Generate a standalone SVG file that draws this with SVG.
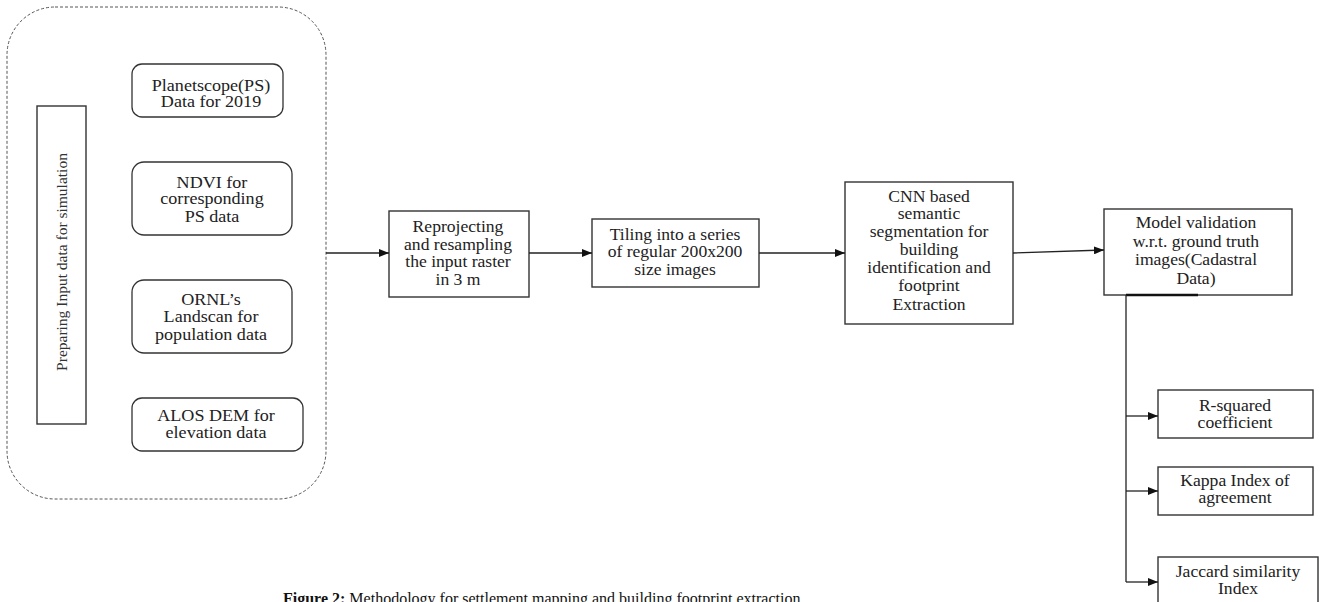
<svg xmlns="http://www.w3.org/2000/svg" width="1323" height="602" viewBox="0 0 1323 602">
<style>
.box{fill:#fff;stroke:#333;stroke-width:1.4}
.rbox{fill:#fff;stroke:#333;stroke-width:1.3}
.t{font-family:"Liberation Serif","Times New Roman",serif;font-size:16px;fill:#222;text-anchor:middle}
.ln{fill:none;stroke:#222;stroke-width:1.3}
.cap{font-family:"Liberation Serif","Times New Roman",serif;font-size:16px;fill:#111}
</style>
<defs>
<marker id="ah" markerWidth="10" markerHeight="8" refX="10" refY="4" orient="auto" markerUnits="userSpaceOnUse">
<path d="M0,0 L10,4 L0,8 Z" fill="#111"/>
</marker>
</defs>
<rect width="1323" height="602" fill="#fff"/>

<g id="container">
<rect x="7" y="7" width="319" height="492" rx="48" ry="48" fill="none" stroke="#555" stroke-width="1" stroke-dasharray="3,2"/>
</g>

<g id="label">
<rect class="box" x="37" y="106" width="49" height="318"/>
<text class="t" transform="translate(67,262) rotate(-90)" x="0" y="0" style="font-size:15.5px;fill:#333">Preparing Input data for simulation</text>
</g>

<g id="ps">
<rect class="rbox" x="132" y="64" width="151" height="53" rx="10"/>
<g transform="translate(211,0) scale(1.13,1)"><text class="t" x="0" y="91">Planetscope(PS)</text><text class="t" x="0" y="107">Data for 2019</text></g>
</g>
<g id="ndvi">
<rect class="rbox" x="132" y="162" width="160" height="73" rx="12"/>
<g transform="translate(212,0) scale(1.13,1)"><text class="t" x="0" y="188">NDVI  for</text><text class="t" x="0" y="204.5">corresponding</text><text class="t" x="0" y="222">PS data</text></g>
</g>
<g id="ornl">
<rect class="rbox" x="132" y="280" width="160" height="73" rx="12"/>
<g transform="translate(211,0) scale(1.13,1)"><text class="t" x="0" y="305">ORNL’s</text><text class="t" x="0" y="322.5">Landscan for</text><text class="t" x="0" y="340.5">population  data</text></g>
</g>
<g id="alos">
<rect class="rbox" x="132" y="398" width="171" height="53" rx="10"/>
<g transform="translate(216,0) scale(1.13,1)"><text class="t" x="0" y="421">ALOS DEM  for</text><text class="t" x="0" y="438">elevation  data</text></g>
</g>

<g id="reproject">
<rect class="box" x="389" y="211" width="140" height="86"/>
<g transform="translate(458,0) scale(1.1,1)"><text class="t" x="0" y="232">Reprojecting</text><text class="t" x="0" y="250">and resampling</text><text class="t" x="0" y="267">the input  raster</text><text class="t" x="0" y="285">in 3  m</text></g>
</g>
<g id="tiling">
<rect class="box" x="592" y="219" width="167" height="68"/>
<g transform="translate(675,0) scale(1.1,1)"><text class="t" x="0" y="240">Tiling  into  a series</text><text class="t" x="0" y="257">of regular  200x200</text><text class="t" x="0" y="275">size images</text></g>
</g>
<g id="cnn">
<rect class="box" x="845" y="182" width="168" height="142"/>
<g transform="translate(929,0) scale(1.1,1)"><text class="t" x="0" y="202">CNN based</text><text class="t" x="0" y="219">semantic</text><text class="t" x="0" y="237">segmentation for</text><text class="t" x="0" y="255">building</text><text class="t" x="0" y="273">identification  and</text><text class="t" x="0" y="291">footprint</text><text class="t" x="0" y="310">Extraction</text></g>
</g>
<g id="validation">
<rect class="box" x="1104" y="209" width="188" height="86"/>
<g transform="translate(1196,0) scale(1.1,1)"><text class="t" x="0" y="228">Model  validation</text><text class="t" x="0" y="247">w.r.t. ground truth</text><text class="t" x="0" y="265">images(Cadastral</text><text class="t" x="0" y="284">Data)</text></g>
</g>
<g id="rsq">
<rect class="box" x="1158" y="390" width="155" height="48"/>
<g transform="translate(1235,0) scale(1.1,1)"><text class="t" x="0" y="411">R-squared</text><text class="t" x="0" y="428">coefficient</text></g>
</g>
<g id="kappa">
<rect class="box" x="1158" y="467" width="155" height="48"/>
<g transform="translate(1235,0) scale(1.1,1)"><text class="t" x="0" y="486">Kappa  Index of</text><text class="t" x="0" y="503">agreement</text></g>
</g>
<g id="jaccard">
<rect class="box" x="1158" y="557" width="160" height="60"/>
<g transform="translate(1238,0) scale(1.1,1)"><text class="t" x="0" y="577">Jaccard similarity</text><text class="t" x="0" y="594">Index</text></g>
</g>

<g id="connectors">
<line class="ln" x1="326" y1="253" x2="389" y2="253" marker-end="url(#ah)"/>
<line class="ln" x1="529" y1="253" x2="592" y2="253" marker-end="url(#ah)"/>
<line class="ln" x1="759" y1="253" x2="845" y2="253" marker-end="url(#ah)"/>
<line class="ln" x1="1013" y1="253" x2="1104" y2="250" marker-end="url(#ah)"/>
<line x1="1126" y1="295" x2="1198" y2="295" stroke="#111" stroke-width="2.5"/>
<line class="ln" x1="1126" y1="295" x2="1126" y2="582"/>
<line class="ln" x1="1126" y1="416" x2="1158" y2="416" marker-end="url(#ah)"/>
<line class="ln" x1="1126" y1="491" x2="1158" y2="491" marker-end="url(#ah)"/>
<line class="ln" x1="1126" y1="582" x2="1158" y2="582" marker-end="url(#ah)"/>
</g>

<g id="caption">
<text class="cap" x="283" y="604"><tspan font-weight="bold">Figure 2:</tspan> Methodology for settlement mapping and building footprint extraction</text>
</g>
</svg>
